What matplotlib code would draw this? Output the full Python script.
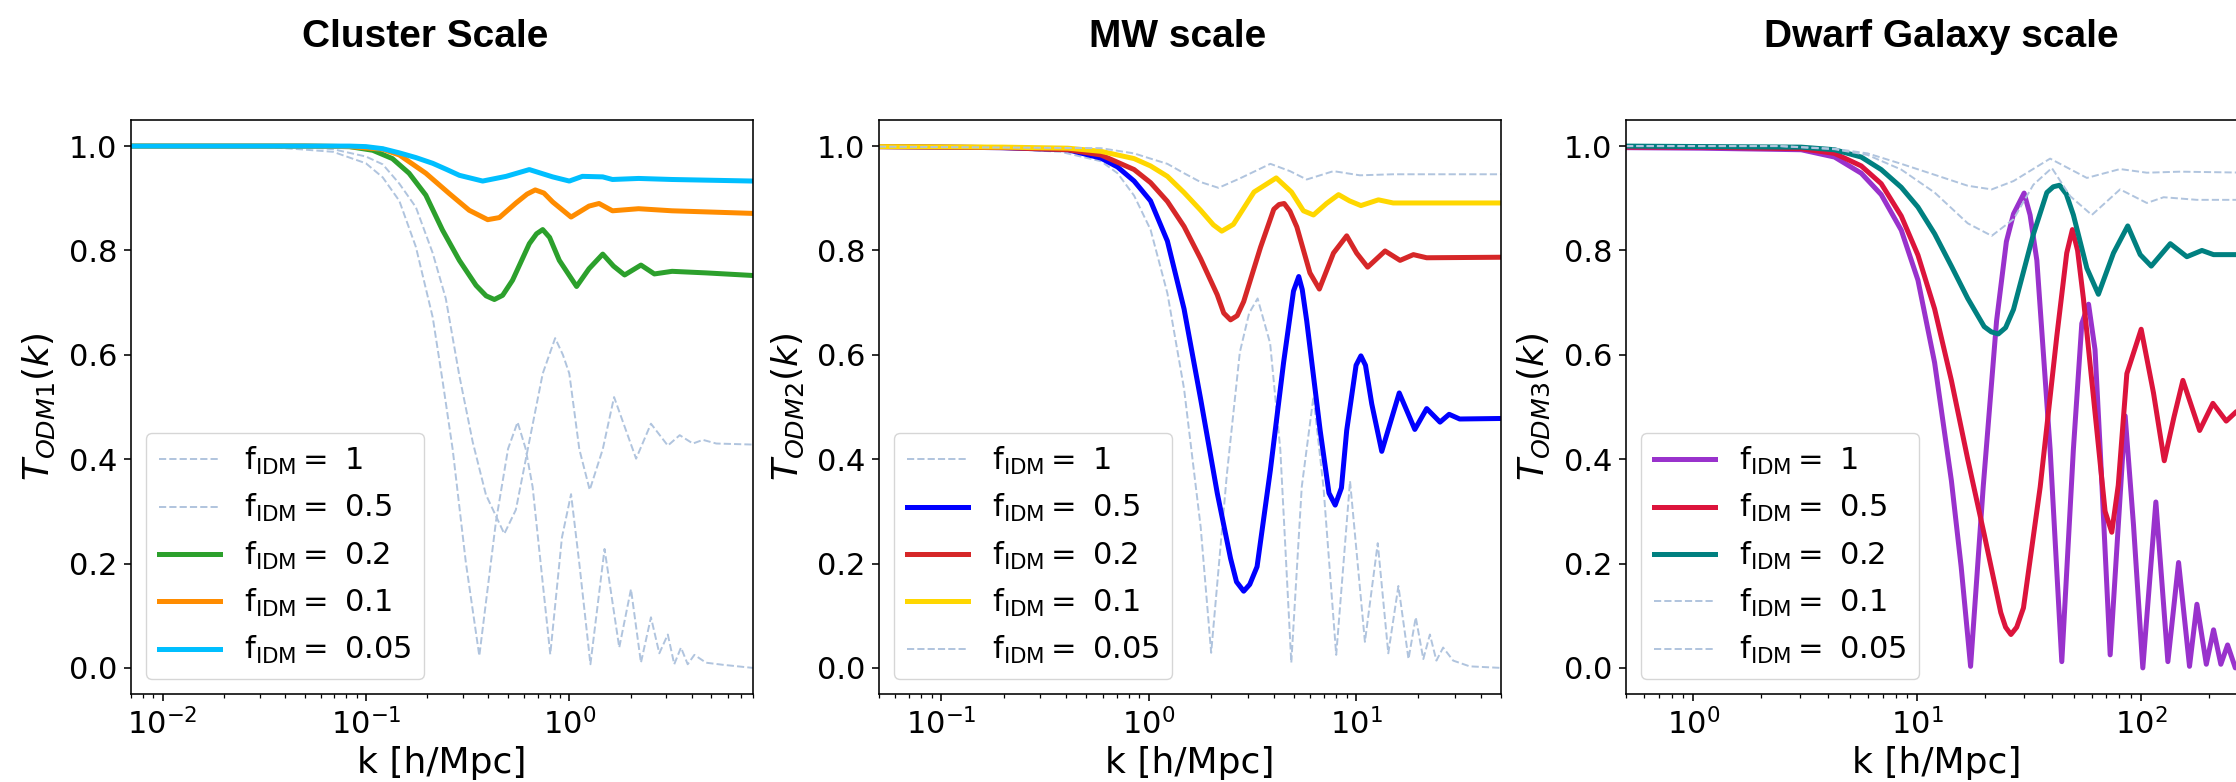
import matplotlib
matplotlib.use("Agg")
import matplotlib.pyplot as plt

# ---- data ------------------------------------------------------------------
fracs = ["1", "0.5", "0.2", "0.1", "0.05"]

# Cluster scale
k1_f1 = [0.007, 0.03, 0.047, 0.069, 0.1, 0.121, 0.146, 0.176, 0.213, 0.238, 0.267, 0.310, 0.361,
         0.436, 0.50, 0.557, 0.61, 0.66, 0.806, 0.92, 1.02, 1.12, 1.27, 1.49, 1.76, 2.01, 2.25,
         2.52, 2.77, 3.05, 3.28, 3.54, 3.82, 4.12, 4.70, 5.68, 8.0]
t1_f1 = [1.0, 0.999, 0.994, 0.989, 0.967, 0.940, 0.895, 0.807, 0.672, 0.551, 0.419, 0.202, 0.023,
         0.281, 0.420, 0.471, 0.420, 0.347, 0.026, 0.250, 0.333, 0.200, 0.007, 0.228, 0.039, 0.151, 0.010,
         0.097, 0.028, 0.064, 0.007, 0.039, 0.007, 0.025, 0.010, 0.006, 0.0]
k1_f05 = [0.007, 0.03, 0.05, 0.069, 0.1, 0.121, 0.146, 0.176, 0.213, 0.247, 0.288, 0.335, 0.389,
          0.479, 0.546, 0.635, 0.740, 0.852, 0.93, 1.00, 1.12, 1.26, 1.46, 1.66, 1.90, 2.13,
          2.52, 3.05, 3.49, 4.05, 4.54, 5.28, 8.0]
t1_f05 = [1.0, 1.0, 0.998, 0.994, 0.980, 0.965, 0.928, 0.883, 0.795, 0.708, 0.560, 0.433, 0.332,
          0.257, 0.303, 0.433, 0.564, 0.632, 0.600, 0.564, 0.419, 0.341, 0.419, 0.519, 0.455, 0.401,
          0.468, 0.426, 0.446, 0.430, 0.437, 0.430, 0.428]
k1_f02 = [0.007, 0.05, 0.083, 0.108, 0.135, 0.163, 0.197, 0.238, 0.288, 0.348, 0.39, 0.428, 0.47,
          0.526, 0.636, 0.69, 0.74, 0.80, 0.893, 1.086, 1.25, 1.46, 1.65, 1.87, 2.25, 2.62, 3.2,
          4.7, 8.0]
t1_f02 = [1.0, 1.0, 0.999, 0.992, 0.976, 0.948, 0.906, 0.839, 0.781, 0.733, 0.713, 0.706, 0.714,
          0.743, 0.813, 0.832, 0.840, 0.825, 0.781, 0.731, 0.765, 0.793, 0.770, 0.753, 0.772, 0.755, 0.760,
          0.757, 0.752]
k1_f01 = [0.007, 0.05, 0.083, 0.121, 0.146, 0.197, 0.257, 0.322, 0.397, 0.453, 0.547, 0.62, 0.68,
          0.75, 0.828, 1.02, 1.25, 1.40, 1.63, 2.19, 3.2, 8.0]
t1_f01 = [1.0, 1.0, 0.999, 0.994, 0.983, 0.948, 0.909, 0.877, 0.859, 0.863, 0.891, 0.908, 0.916,
          0.910, 0.893, 0.864, 0.885, 0.890, 0.876, 0.880, 0.876, 0.871]
k1_f005 = [0.007, 0.05, 0.083, 0.1, 0.121, 0.146, 0.176, 0.213, 0.25, 0.288, 0.375, 0.489,
           0.636, 0.828, 1.0, 1.16, 1.46, 1.63, 2.19, 3.2, 8.0]
t1_f005 = [1.0, 1.0, 1.0, 0.999, 0.995, 0.987, 0.978, 0.967, 0.955, 0.944, 0.933, 0.942,
           0.955, 0.941, 0.933, 0.942, 0.941, 0.936, 0.938, 0.936, 0.933]

# MW scale
k2_f1 = [0.05, 0.2, 0.376, 0.588, 0.707, 0.850, 1.02, 1.23, 1.48, 1.78, 2.00, 2.38, 2.75, 3.05,
         3.35, 3.85, 4.31, 4.87, 5.47, 6.23, 6.96, 8.02, 9.35, 11.03, 12.72, 14.3, 16.0, 17.9,
         19.4, 21.1, 22.7, 24.4, 26.3, 29.4, 35.3, 50.0]
t2_f1 = [0.998, 0.995, 0.989, 0.971, 0.948, 0.905, 0.840, 0.718, 0.535, 0.270, 0.029, 0.370, 0.605, 0.680,
         0.708, 0.622, 0.419, 0.010, 0.347, 0.520, 0.347, 0.025, 0.358, 0.050, 0.239, 0.028, 0.157, 0.017,
         0.097, 0.017, 0.064, 0.014, 0.039, 0.014, 0.003, 0.0]
k2_f05 = [0.05, 0.194, 0.407, 0.588, 0.707, 0.850, 1.02, 1.23, 1.48, 1.78, 2.14, 2.48, 2.65, 2.87,
          3.07, 3.33, 3.86, 4.47, 4.99, 5.29, 5.5, 5.78, 6.71, 7.4, 7.93, 8.5, 9.01, 10.0, 10.55,
          11.1, 11.90, 13.30, 16.15, 19.2, 21.9, 25.4, 28.1, 31.6, 50.0]
t2_f05 = [0.999, 0.997, 0.993, 0.977, 0.960, 0.933, 0.895, 0.818, 0.688, 0.515, 0.335, 0.210, 0.165, 0.147,
          0.160, 0.194, 0.379, 0.585, 0.722, 0.750, 0.725, 0.665, 0.455, 0.335, 0.312, 0.345, 0.455, 0.580, 0.598,
          0.580, 0.506, 0.415, 0.527, 0.457, 0.497, 0.471, 0.486, 0.477, 0.478]
k2_f02 = [0.05, 0.2, 0.407, 0.588, 0.850, 1.02, 1.23, 1.48, 1.78, 2.14, 2.3, 2.48, 2.67, 2.87, 3.46,
          4.01, 4.25, 4.50, 4.8, 5.18, 5.99, 6.65, 7.78, 9.01, 10.06, 11.37, 13.80, 16.3, 18.9, 21.9,
          50.0]
t2_f02 = [0.999, 0.997, 0.993, 0.983, 0.955, 0.930, 0.894, 0.846, 0.784, 0.715, 0.680, 0.667, 0.675, 0.702,
          0.806, 0.879, 0.888, 0.890, 0.875, 0.845, 0.757, 0.726, 0.795, 0.828, 0.795, 0.768, 0.799, 0.781,
          0.792, 0.786, 0.787]
k2_f01 = [0.05, 0.2, 0.407, 0.588, 0.850, 1.02, 1.23, 1.48, 1.78, 2.05, 2.25, 2.56, 3.22,
          4.12, 4.88, 5.57, 6.23, 7.2, 8.23, 9.3, 10.55, 12.82, 15.1, 50.0]
t2_f01 = [0.999, 0.998, 0.996, 0.990, 0.976, 0.962, 0.942, 0.911, 0.877, 0.849, 0.837, 0.850, 0.912,
          0.939, 0.912, 0.876, 0.868, 0.890, 0.907, 0.895, 0.886, 0.897, 0.891, 0.891]
k2_f005 = [0.05, 0.588, 0.850, 1.02, 1.23, 1.48, 1.78, 2.17, 2.75, 3.86, 4.8, 5.78, 7.78,
           10.43, 15.1, 50.0]
t2_f005 = [0.999, 0.996, 0.986, 0.976, 0.966, 0.948, 0.931, 0.920, 0.938, 0.966, 0.952, 0.936, 0.952,
           0.944, 0.946, 0.946]

# Dwarf galaxy scale
k3_f1 = [0.5, 1.08, 3.03, 4.27, 5.62, 6.90, 8.48, 10.07, 11.95, 14.2, 15.7, 17.3, 19.7, 22.6,
         25.0, 26.9, 30.0, 31.9, 34.2, 39.2, 44.2, 49.8, 54.3, 58.2, 62.2, 65.6, 72.7, 84.8,
         92.4, 101.7, 116.3, 131.6, 146.9, 164.4, 177.4, 195.4, 210.5, 226.9, 243.2, 263.3,
         280.0, 300.0]
t3_f1 = [0.997, 0.996, 0.993, 0.979, 0.948, 0.907, 0.839, 0.743, 0.585, 0.359, 0.194, 0.003, 0.347, 0.665,
         0.817, 0.870, 0.910, 0.868, 0.781, 0.419, 0.012, 0.419, 0.660, 0.697, 0.610, 0.419, 0.025, 0.483,
         0.274, 0.0, 0.318, 0.012, 0.202, 0.003, 0.122, 0.007, 0.073, 0.007, 0.044, 0.0,
         0.02, 0.0]
k3_f05 = [0.5, 1.08, 3.03, 4.27, 5.62, 6.90, 8.48, 10.07, 11.95, 14.2, 16.8, 19.9, 23.6, 24.8, 26.2,
          27.8, 29.8, 35.4, 42.0, 46.5, 49.3, 52.0, 55.2, 63.4, 69.0, 73.9, 79.0, 86.3, 100.0, 113.5,
          126.8, 140.0, 153.6, 182.4, 209.1, 239.8, 266.0, 300.0]
t3_f05 = [0.998, 0.998, 0.995, 0.986, 0.962, 0.928, 0.866, 0.791, 0.688, 0.551, 0.400, 0.256, 0.106, 0.078,
          0.064, 0.078, 0.115, 0.347, 0.636, 0.795, 0.840, 0.800, 0.708, 0.455, 0.300, 0.260, 0.350, 0.564,
          0.649, 0.527, 0.397, 0.480, 0.551, 0.455, 0.507, 0.473, 0.491, 0.49]
k3_f02 = [0.5, 3.03, 4.27, 5.62, 6.90, 8.48, 10.07, 11.95, 14.2, 16.8, 19.9, 21.4, 23.0, 24.8, 26.9,
          33.0, 37.9, 40.5, 43.2, 46.3, 49.8, 57.2, 64.4, 75.2, 87.1, 99.0, 110.9, 134.9, 160.0,
          186.8, 210.5, 300.0]
t3_f02 = [1.0, 0.998, 0.993, 0.979, 0.955, 0.921, 0.883, 0.832, 0.770, 0.708, 0.654, 0.644, 0.640, 0.652,
          0.687, 0.831, 0.911, 0.922, 0.925, 0.908, 0.868, 0.766, 0.716, 0.795, 0.847, 0.792, 0.770, 0.813,
          0.788, 0.800, 0.792, 0.792]
k3_f01 = [0.5, 2.43, 4.27, 6.0, 8.48, 11.95, 16.8, 21.5, 26.9, 33.0, 39.9, 48.2, 60.2, 80.5,
          106.0, 126.0, 177.4, 300.0]
t3_f01 = [1.0, 1.0, 0.994, 0.983, 0.955, 0.911, 0.852, 0.828, 0.860, 0.926, 0.958, 0.904, 0.868, 0.917,
          0.891, 0.902, 0.897, 0.897]
k3_f005 = [0.5, 2.43, 4.27, 6.0, 8.48, 11.95, 16.8, 21.5, 26.9, 39.2, 57.2, 80.5, 106.0, 149.4, 300.0]
t3_f005 = [1.0, 1.0, 0.995, 0.986, 0.966, 0.945, 0.924, 0.917, 0.933, 0.976, 0.939, 0.956, 0.949, 0.951,
           0.949]

# ---- style -----------------------------------------------------------------
plt.rcParams.update({
    "axes.linewidth": 1.15,
    "xtick.major.size": 5, "xtick.major.width": 1.15,
    "xtick.minor.size": 2.9, "xtick.minor.width": 0.9,
    "ytick.major.size": 5, "ytick.major.width": 1.15,
    "xtick.major.pad": 5, "ytick.major.pad": 5,
})

DASH = "#b0c4de"
W, H = 2236, 782
fig = plt.figure(figsize=(W / 100, H / 100), dpi=100)

panels = [
    dict(left=131, xlim=(0.007, 8), ylab=r"$T_{ODM1}(k)$", title="Cluster Scale", tx=425,
         curves=[(k1_f1, t1_f1, DASH, "--"), (k1_f05, t1_f05, DASH, "--"),
                 (k1_f02, t1_f02, "#2ca02c", "-"), (k1_f01, t1_f01, "darkorange", "-"),
                 (k1_f005, t1_f005, "deepskyblue", "-")]),
    dict(left=879, xlim=(0.05, 50), ylab=r"$T_{ODM2}(k)$", title="MW scale", tx=1178,
         curves=[(k2_f1, t2_f1, DASH, "--"), (k2_f05, t2_f05, "blue", "-"),
                 (k2_f02, t2_f02, "#d62728", "-"), (k2_f01, t2_f01, "gold", "-"),
                 (k2_f005, t2_f005, DASH, "--")]),
    dict(left=1626, xlim=(0.5, 300), ylab=r"$T_{ODM3}(k)$", title="Dwarf Galaxy scale", tx=1941,
         curves=[(k3_f1, t3_f1, "darkorchid", "-"), (k3_f05, t3_f05, "crimson", "-"),
                 (k3_f02, t3_f02, "teal", "-"), (k3_f01, t3_f01, DASH, "--"),
                 (k3_f005, t3_f005, DASH, "--")]),
]

for p in panels:
    ax = fig.add_axes([p["left"] / W, (H - 694) / H, 622 / W, 574 / H])
    for (k, t, c, ls), f in zip(p["curves"], fracs):
        lw = 3.6 if ls == "-" else 1.4
        ax.plot(k, t, color=c, ls=ls, lw=lw, solid_joinstyle="round",
                label=r"$\mathrm{f_{IDM}} = $ " + f)
    ax.set_xscale("log")
    ax.set_xlim(*p["xlim"])
    ax.set_ylim(-0.05, 1.05)
    ax.set_yticks([0.0, 0.2, 0.4, 0.6, 0.8, 1.0])
    ax.tick_params(labelsize=22)
    ax.set_xlabel("k [h/Mpc]", fontsize=26, labelpad=4)
    ax.set_ylabel(p["ylab"], fontsize=26, labelpad=8)
    ax.legend(loc="lower left", fontsize=22)
    fig.text(p["tx"] / W, 1 - 37 / H, p["title"], ha="center", va="center",
             fontsize=28, fontweight="bold", family="Liberation Sans")

fig.savefig("out.png", dpi=100)
